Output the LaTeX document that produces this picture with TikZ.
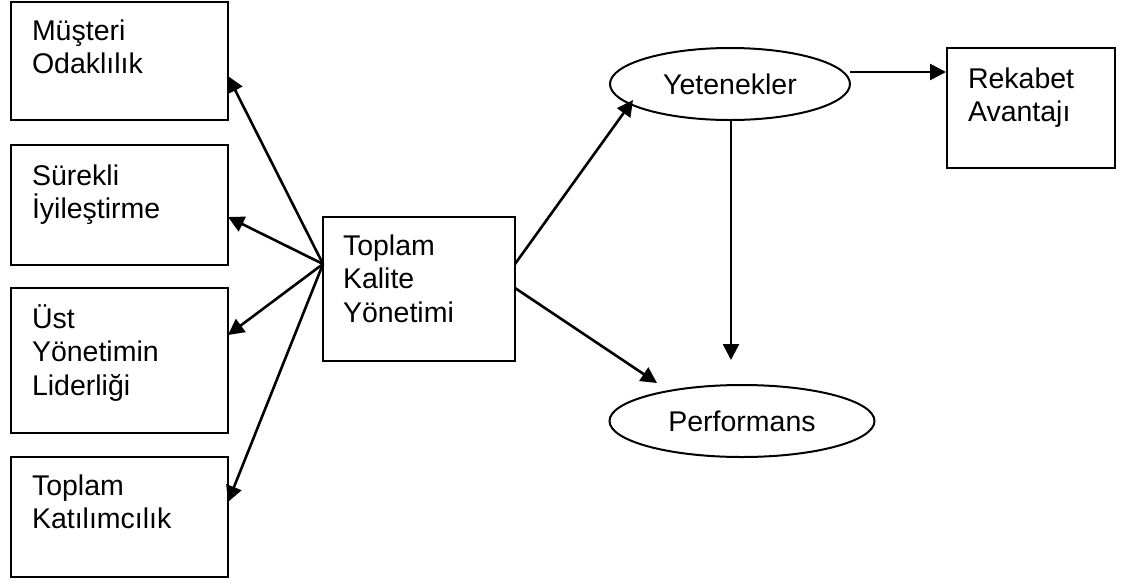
\documentclass[tikz,border=0pt]{standalone}
\usepackage{fontspec}
\setmainfont{Liberation Sans}
\usetikzlibrary{arrows.meta,calc,shapes.geometric}
% stacked lines, baseline at the first line
\newcommand\lns[1]{\vtop{\halign{##\hfil\cr#1\crcr}}}
\begin{document}
\begin{tikzpicture}[x=1pt,y=-1pt,
  every node/.style={inner sep=0pt,outer sep=0pt},
  box/.style={draw,line width=2.4pt,rectangle,anchor=north west},
  oval/.style={draw,line width=2pt,ellipse,font=\fontsize{28.5}{33.5}\selectfont},
  txt/.style={anchor=base west,font=\fontsize{28.5}{33.5}\selectfont},
  conn/.style={line width=2.6pt,-{Triangle[length=16pt,width=16pt]}}]
\useasboundingbox (0,0) rectangle (1122,582);

% left column of factor boxes
\node[box,minimum width=217pt,minimum height=118pt] (b1) at (11,2) {};
\node[box,minimum width=217pt,minimum height=120pt] (b2) at (11,145) {};
\node[box,minimum width=217pt,minimum height=145pt] (b3) at (11,288) {};
\node[box,minimum width=217pt,minimum height=120pt] (b4) at (11,457) {};
\node[txt] (t1) at ($(b1.north west)+(21,38)$) {\lns{Müşteri\cr Odaklılık}};
\node[txt] (t2) at ($(b2.north west)+(21,40)$) {\lns{Sürekli\cr İyileştirme}};
\node[txt] (t3) at ($(b3.north west)+(21,40)$) {\lns{Üst\cr Yönetimin\cr Liderliği}};
\node[txt] (t4) at ($(b4.north west)+(21,38)$) {\lns{Toplam\cr Katılımcılık}};

% central box
\node[box,minimum width=192pt,minimum height=144pt] (tky) at (323,217) {};
\node[txt] (tt) at ($(tky.north west)+(20,38)$) {\lns{Toplam\cr Kalite\cr Yönetimi}};

% outcomes
\node[oval,minimum width=240pt,minimum height=72pt] (yet) at (730,84) {Yetenekler};
\node[oval,minimum width=265pt,minimum height=72pt] (perf) at (742,421) {Performans};
\node[box,minimum width=168pt,minimum height=120pt] (rek) at (947,48) {};
\node[txt] (tr) at ($(rek.north west)+(21,40)$) {\lns{Rekabet\cr Avantajı}};

% connectors
\coordinate (hub) at ($(tky.north west)+(0,47)$);
\draw[conn] (hub) -- ($(b1.north east)+(0,74)$);
\draw[conn] (hub) -- ($(b2.north east)+(0,72)$);
\draw[conn] (hub) -- ($(b3.north east)+(0,47)$);
\draw[conn] (hub) -- ($(b4.north east)+(0,45)$);

\draw[conn] ($(tky.north east)+(0,47)$) -- ($(yet.center)+(-97,16)$);
\draw[conn] ($(tky.north east)+(0,71)$) -- ($(perf.center)+(-85,-38)$);
\coordinate (pin) at ($(yet.south)+(1,240)$);
\draw[conn] ($(yet.south)+(1,0)$) -- (pin);
\draw[conn] ($(yet.east)+(0,-12)$) -- ($(rek.north west)+(-1,24)$);
\end{tikzpicture}
\end{document}
